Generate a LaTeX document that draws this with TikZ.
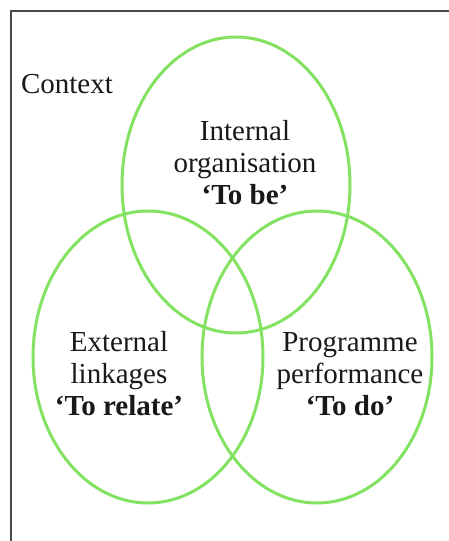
\documentclass[tikz,border=0pt]{standalone}
\usepackage{fontspec}
\setmainfont{Liberation Serif}
\definecolor{venngreen}{HTML}{84E262}
\definecolor{framegray}{HTML}{4A4A4A}

\tikzset{
    venn/.style={draw=venngreen, line width=1.5pt},
    label/.style={align=center, font=\fontsize{14.5}{16}\selectfont, text=black!90}
}

\begin{document}
\begin{tikzpicture}[x=0.5pt, y=-0.5pt]
    \useasboundingbox (0, 0) rectangle (449, 541);
    \fill[white] (0, 0) rectangle (449, 541);

    % frame, only the top and the left side are shown
    \draw[framegray, line width=1pt] (449, 10.5) -- (10.5, 10.5) -- (10.5, 541);

    \draw[venn] (236, 185) ellipse (114 and 148);
    \draw[venn] (148, 357) ellipse (115 and 146);
    \draw[venn] (317, 357) ellipse (115 and 146);

    \node[label, anchor=base west] (context) at (14, 93) {Context};
    \node[label] (internal) at (245, 163) {Internal\\organisation\\\textbf{‘To be’}};
    \node[label] (external) at (119, 374) {External\\linkages\\\textbf{‘To relate’}};
    \node[label] (programme) at (350, 374) {Programme\\performance\\\textbf{‘To do’}};

\end{tikzpicture}
\end{document}
